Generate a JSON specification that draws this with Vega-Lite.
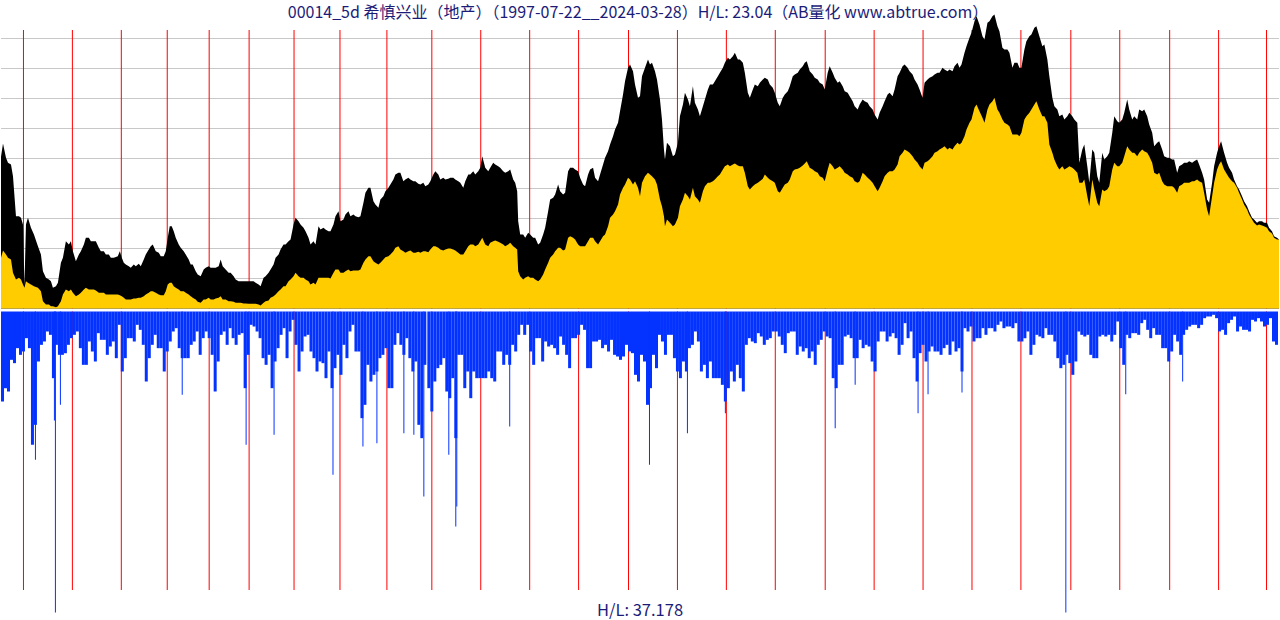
{
"$schema": "https://vega.github.io/schema/vega-lite/v6.json",
"width": 1280, "height": 620,
"autosize": {"type": "fit", "contains": "padding"},
"padding": 0,
"background": "white",
"config": {"view": {"stroke": null}},
"datasets": {
"price": [
{"x":0,"hi":455,"lo":152},{"x":2,"hi":495,"lo":174},{"x":5,"hi":452,"lo":162},{"x":7,"hi":437,"lo":152},{"x":10,"hi":432,"lo":147},{"x":12,"hi":397,"lo":107},{"x":15,"hi":277,"lo":87},{"x":18,"hi":277,"lo":92},{"x":20,"hi":272,"lo":87},{"x":22,"hi":252,"lo":72},{"x":23.5,"hi":70,"lo":62},{"x":25,"hi":252,"lo":82},{"x":27,"hi":272,"lo":77},{"x":30,"hi":242,"lo":72},{"x":33,"hi":222,"lo":67},{"x":37,"hi":187,"lo":62},{"x":40,"hi":162,"lo":52},{"x":42,"hi":112,"lo":22},{"x":45,"hi":92,"lo":12},{"x":48,"hi":87,"lo":12},{"x":50,"hi":82,"lo":7},{"x":52,"hi":62,"lo":7},{"x":55,"hi":67,"lo":4},{"x":57,"hi":77,"lo":7},{"x":60,"hi":137,"lo":22},{"x":62,"hi":152,"lo":42},{"x":65,"hi":202,"lo":57},{"x":68,"hi":192,"lo":52},{"x":70,"hi":202,"lo":57},{"x":72,"hi":172,"lo":47},{"x":75,"hi":142,"lo":37},{"x":78,"hi":162,"lo":42},{"x":80,"hi":172,"lo":47},{"x":83,"hi":192,"lo":57},{"x":85,"hi":212,"lo":62},{"x":88,"hi":212,"lo":57},{"x":90,"hi":202,"lo":57},{"x":93,"hi":202,"lo":57},{"x":95,"hi":202,"lo":54},{"x":98,"hi":182,"lo":47},{"x":100,"hi":172,"lo":47},{"x":103,"hi":172,"lo":47},{"x":105,"hi":162,"lo":42},{"x":108,"hi":162,"lo":42},{"x":110,"hi":152,"lo":42},{"x":113,"hi":152,"lo":42},{"x":117,"hi":157,"lo":42},{"x":119,"hi":172,"lo":40},{"x":121,"hi":152,"lo":37},{"x":123,"hi":137,"lo":32},{"x":125,"hi":132,"lo":27},{"x":128,"hi":127,"lo":27},{"x":130,"hi":122,"lo":27},{"x":133,"hi":132,"lo":30},{"x":135,"hi":127,"lo":30},{"x":138,"hi":134,"lo":32},{"x":140,"hi":127,"lo":32},{"x":143,"hi":147,"lo":37},{"x":145,"hi":162,"lo":42},{"x":148,"hi":177,"lo":47},{"x":150,"hi":187,"lo":52},{"x":152,"hi":192,"lo":52},{"x":155,"hi":172,"lo":47},{"x":158,"hi":167,"lo":42},{"x":160,"hi":157,"lo":40},{"x":163,"hi":157,"lo":40},{"x":165,"hi":172,"lo":52},{"x":167,"hi":212,"lo":72},{"x":169,"hi":247,"lo":77},{"x":171,"hi":247,"lo":77},{"x":173,"hi":232,"lo":67},{"x":175,"hi":212,"lo":62},{"x":178,"hi":192,"lo":57},{"x":180,"hi":182,"lo":52},{"x":183,"hi":172,"lo":52},{"x":185,"hi":162,"lo":47},{"x":188,"hi":147,"lo":42},{"x":190,"hi":132,"lo":37},{"x":192,"hi":132,"lo":32},{"x":195,"hi":112,"lo":27},{"x":197,"hi":102,"lo":20},{"x":200,"hi":97,"lo":17},{"x":203,"hi":117,"lo":27},{"x":205,"hi":122,"lo":27},{"x":208,"hi":127,"lo":32},{"x":210,"hi":122,"lo":27},{"x":213,"hi":122,"lo":27},{"x":215,"hi":122,"lo":30},{"x":218,"hi":127,"lo":32},{"x":220,"hi":147,"lo":37},{"x":222,"hi":127,"lo":27},{"x":225,"hi":117,"lo":27},{"x":228,"hi":107,"lo":22},{"x":230,"hi":107,"lo":22},{"x":233,"hi":97,"lo":20},{"x":235,"hi":87,"lo":17},{"x":238,"hi":82,"lo":17},{"x":240,"hi":82,"lo":17},{"x":243,"hi":82,"lo":15},{"x":245,"hi":82,"lo":15},{"x":248,"hi":82,"lo":14},{"x":250,"hi":82,"lo":14},{"x":253,"hi":82,"lo":14},{"x":255,"hi":77,"lo":14},{"x":258,"hi":72,"lo":12},{"x":260,"hi":67,"lo":9},{"x":263,"hi":92,"lo":17},{"x":265,"hi":97,"lo":22},{"x":268,"hi":107,"lo":24},{"x":270,"hi":117,"lo":32},{"x":273,"hi":132,"lo":37},{"x":275,"hi":152,"lo":42},{"x":278,"hi":162,"lo":52},{"x":280,"hi":177,"lo":57},{"x":283,"hi":192,"lo":67},{"x":285,"hi":192,"lo":67},{"x":288,"hi":202,"lo":82},{"x":290,"hi":207,"lo":87},{"x":293,"hi":252,"lo":97},{"x":295,"hi":272,"lo":107},{"x":298,"hi":262,"lo":97},{"x":300,"hi":252,"lo":92},{"x":303,"hi":242,"lo":92},{"x":305,"hi":232,"lo":87},{"x":308,"hi":212,"lo":82},{"x":310,"hi":192,"lo":72},{"x":313,"hi":202,"lo":77},{"x":315,"hi":192,"lo":72},{"x":318,"hi":247,"lo":92},
{"x":320,"hi":237,"lo":92},{"x":323,"hi":242,"lo":92},{"x":325,"hi":237,"lo":92},{"x":328,"hi":232,"lo":92},{"x":330,"hi":232,"lo":90},{"x":333,"hi":252,"lo":107},{"x":335,"hi":277,"lo":117},{"x":338,"hi":292,"lo":117},{"x":340,"hi":262,"lo":107},{"x":343,"hi":267,"lo":107},{"x":345,"hi":282,"lo":112},{"x":348,"hi":292,"lo":117},{"x":350,"hi":277,"lo":112},{"x":353,"hi":282,"lo":114},{"x":355,"hi":277,"lo":114},{"x":358,"hi":274,"lo":114},{"x":360,"hi":277,"lo":117},{"x":363,"hi":317,"lo":137},{"x":365,"hi":347,"lo":147},{"x":368,"hi":362,"lo":157},{"x":370,"hi":362,"lo":157},{"x":373,"hi":322,"lo":142},{"x":375,"hi":312,"lo":137},{"x":378,"hi":302,"lo":132},{"x":380,"hi":327,"lo":137},{"x":383,"hi":337,"lo":147},{"x":385,"hi":352,"lo":154},{"x":388,"hi":362,"lo":157},{"x":390,"hi":372,"lo":162},{"x":393,"hi":387,"lo":172},{"x":395,"hi":402,"lo":182},{"x":398,"hi":407,"lo":187},{"x":400,"hi":407,"lo":177},{"x":403,"hi":382,"lo":172},{"x":405,"hi":387,"lo":167},{"x":408,"hi":392,"lo":172},{"x":410,"hi":387,"lo":174},{"x":413,"hi":382,"lo":167},{"x":415,"hi":382,"lo":167},{"x":418,"hi":374,"lo":170},{"x":420,"hi":372,"lo":167},{"x":423,"hi":377,"lo":172},{"x":425,"hi":367,"lo":172},{"x":428,"hi":372,"lo":169},{"x":430,"hi":382,"lo":177},{"x":433,"hi":402,"lo":187},{"x":435,"hi":412,"lo":187},{"x":438,"hi":402,"lo":182},{"x":440,"hi":387,"lo":177},{"x":443,"hi":392,"lo":174},{"x":445,"hi":387,"lo":177},{"x":448,"hi":389,"lo":180},{"x":450,"hi":392,"lo":180},{"x":453,"hi":392,"lo":177},{"x":455,"hi":387,"lo":174},{"x":458,"hi":382,"lo":167},{"x":460,"hi":377,"lo":162},{"x":463,"hi":362,"lo":162},{"x":465,"hi":382,"lo":172},{"x":468,"hi":402,"lo":187},{"x":470,"hi":402,"lo":192},{"x":473,"hi":412,"lo":192},{"x":475,"hi":402,"lo":187},{"x":478,"hi":412,"lo":192},{"x":480,"hi":422,"lo":202},{"x":482,"hi":457,"lo":212},{"x":485,"hi":422,"lo":192},{"x":488,"hi":412,"lo":187},{"x":490,"hi":422,"lo":197},{"x":493,"hi":437,"lo":202},{"x":495,"hi":432,"lo":204},{"x":498,"hi":427,"lo":200},{"x":500,"hi":422,"lo":197},{"x":503,"hi":412,"lo":192},{"x":505,"hi":407,"lo":187},{"x":508,"hi":412,"lo":192},{"x":510,"hi":417,"lo":197},{"x":513,"hi":387,"lo":187},{"x":515,"hi":377,"lo":182},{"x":517,"hi":352,"lo":177},{"x":518,"hi":262,"lo":112},{"x":520,"hi":222,"lo":97},{"x":523,"hi":222,"lo":87},{"x":525,"hi":212,"lo":92},{"x":528,"hi":227,"lo":97},{"x":530,"hi":222,"lo":92},{"x":533,"hi":212,"lo":92},{"x":535,"hi":212,"lo":87},{"x":538,"hi":192,"lo":82},{"x":540,"hi":197,"lo":87},{"x":543,"hi":222,"lo":102},{"x":545,"hi":242,"lo":117},{"x":548,"hi":292,"lo":137},{"x":550,"hi":327,"lo":152},{"x":553,"hi":332,"lo":162},{"x":555,"hi":342,"lo":172},{"x":558,"hi":372,"lo":182},{"x":560,"hi":352,"lo":182},{"x":563,"hi":342,"lo":174},{"x":565,"hi":347,"lo":177},{"x":568,"hi":412,"lo":212},{"x":570,"hi":422,"lo":217},{"x":573,"hi":422,"lo":212},{"x":575,"hi":417,"lo":207},{"x":578,"hi":412,"lo":192},{"x":580,"hi":392,"lo":187},{"x":583,"hi":372,"lo":187},{"x":585,"hi":367,"lo":187},{"x":588,"hi":402,"lo":202},{"x":590,"hi":417,"lo":212},{"x":593,"hi":422,"lo":212},{"x":595,"hi":392,"lo":202},{"x":598,"hi":382,"lo":192},{"x":600,"hi":402,"lo":202},{"x":603,"hi":432,"lo":217},{"x":605,"hi":452,"lo":222},{"x":608,"hi":472,"lo":247},{"x":610,"hi":492,"lo":272},{"x":613,"hi":517,"lo":282},{"x":615,"hi":537,"lo":292},{"x":618,"hi":557,"lo":312},{"x":620,"hi":592,"lo":342},{"x":623,"hi":642,"lo":362},{"x":625,"hi":682,"lo":372},{"x":628,"hi":722,"lo":392},{"x":630,"hi":732,"lo":387},{"x":633,"hi":712,"lo":372},{"x":635,"hi":672,"lo":382},{"x":638,"hi":632,"lo":362},
{"x":640,"hi":637,"lo":337},{"x":642,"hi":697,"lo":377},{"x":645,"hi":722,"lo":397},{"x":648,"hi":747,"lo":407},{"x":650,"hi":732,"lo":402},{"x":652,"hi":737,"lo":397},{"x":655,"hi":712,"lo":387},{"x":657,"hi":687,"lo":372},{"x":660,"hi":627,"lo":327},{"x":662,"hi":567,"lo":307},{"x":664,"hi":477,"lo":277},{"x":665,"hi":447,"lo":247},{"x":667,"hi":497,"lo":267},{"x":670,"hi":487,"lo":257},{"x":673,"hi":457,"lo":247},{"x":675,"hi":462,"lo":252},{"x":678,"hi":497,"lo":272},{"x":680,"hi":577,"lo":307},{"x":683,"hi":612,"lo":327},{"x":685,"hi":647,"lo":347},{"x":688,"hi":627,"lo":337},{"x":690,"hi":607,"lo":327},{"x":693,"hi":667,"lo":362},{"x":695,"hi":617,"lo":337},{"x":698,"hi":597,"lo":327},{"x":700,"hi":577,"lo":317},{"x":703,"hi":607,"lo":352},{"x":705,"hi":627,"lo":367},{"x":708,"hi":657,"lo":377},{"x":710,"hi":672,"lo":377},{"x":713,"hi":672,"lo":382},{"x":715,"hi":682,"lo":387},{"x":718,"hi":697,"lo":397},{"x":720,"hi":707,"lo":402},{"x":723,"hi":722,"lo":417},{"x":725,"hi":737,"lo":427},{"x":728,"hi":752,"lo":432},{"x":730,"hi":747,"lo":427},{"x":733,"hi":757,"lo":432},{"x":735,"hi":767,"lo":435},{"x":738,"hi":747,"lo":429},{"x":740,"hi":747,"lo":427},{"x":743,"hi":737,"lo":427},{"x":745,"hi":707,"lo":407},{"x":748,"hi":647,"lo":367},{"x":750,"hi":632,"lo":357},{"x":753,"hi":657,"lo":367},{"x":755,"hi":672,"lo":372},{"x":758,"hi":667,"lo":377},{"x":760,"hi":677,"lo":382},{"x":763,"hi":687,"lo":389},{"x":765,"hi":692,"lo":402},{"x":768,"hi":687,"lo":392},{"x":770,"hi":672,"lo":387},{"x":773,"hi":662,"lo":382},{"x":775,"hi":647,"lo":377},{"x":778,"hi":617,"lo":352},{"x":780,"hi":607,"lo":347},{"x":783,"hi":632,"lo":362},{"x":785,"hi":642,"lo":372},{"x":788,"hi":652,"lo":377},{"x":790,"hi":667,"lo":387},{"x":793,"hi":697,"lo":412},{"x":795,"hi":702,"lo":417},{"x":798,"hi":707,"lo":419},{"x":800,"hi":717,"lo":422},{"x":803,"hi":727,"lo":429},{"x":805,"hi":737,"lo":435},{"x":807,"hi":742,"lo":442},{"x":810,"hi":712,"lo":422},{"x":813,"hi":702,"lo":417},{"x":815,"hi":692,"lo":412},{"x":818,"hi":687,"lo":407},{"x":820,"hi":677,"lo":397},{"x":823,"hi":672,"lo":392},{"x":825,"hi":657,"lo":382},{"x":828,"hi":707,"lo":417},{"x":830,"hi":727,"lo":437},{"x":833,"hi":707,"lo":427},{"x":835,"hi":692,"lo":417},{"x":838,"hi":677,"lo":422},{"x":840,"hi":682,"lo":427},{"x":843,"hi":667,"lo":417},{"x":845,"hi":652,"lo":407},{"x":848,"hi":647,"lo":402},{"x":850,"hi":637,"lo":397},{"x":853,"hi":622,"lo":392},{"x":855,"hi":607,"lo":382},{"x":858,"hi":597,"lo":377},{"x":860,"hi":612,"lo":382},{"x":863,"hi":627,"lo":407},{"x":865,"hi":622,"lo":402},{"x":868,"hi":617,"lo":392},{"x":870,"hi":607,"lo":387},{"x":873,"hi":597,"lo":377},{"x":875,"hi":582,"lo":367},{"x":878,"hi":567,"lo":352},{"x":880,"hi":587,"lo":362},{"x":883,"hi":607,"lo":382},{"x":885,"hi":622,"lo":397},{"x":888,"hi":642,"lo":407},{"x":890,"hi":647,"lo":412},{"x":893,"hi":637,"lo":412},{"x":895,"hi":657,"lo":417},{"x":898,"hi":697,"lo":432},{"x":900,"hi":707,"lo":457},{"x":903,"hi":727,"lo":467},{"x":905,"hi":732,"lo":477},{"x":908,"hi":722,"lo":472},{"x":910,"hi":712,"lo":467},{"x":913,"hi":702,"lo":457},{"x":915,"hi":687,"lo":447},{"x":918,"hi":672,"lo":437},{"x":920,"hi":657,"lo":427},{"x":923,"hi":632,"lo":417},{"x":925,"hi":677,"lo":437},{"x":928,"hi":687,"lo":442},{"x":930,"hi":692,"lo":447},{"x":933,"hi":697,"lo":457},{"x":935,"hi":702,"lo":467},{"x":938,"hi":707,"lo":472},{"x":940,"hi":707,"lo":477},{"x":943,"hi":722,"lo":482},{"x":945,"hi":717,"lo":487},{"x":948,"hi":712,"lo":477},{"x":950,"hi":717,"lo":482},{"x":953,"hi":712,"lo":477},{"x":955,"hi":727,"lo":487},{"x":958,"hi":737,"lo":497},
{"x":960,"hi":722,"lo":492},{"x":962,"hi":732,"lo":497},{"x":965,"hi":767,"lo":517},{"x":967,"hi":787,"lo":537},{"x":970,"hi":812,"lo":557},{"x":972,"hi":827,"lo":567},{"x":975,"hi":862,"lo":602},{"x":977,"hi":877,"lo":612},{"x":980,"hi":852,"lo":592},{"x":983,"hi":817,"lo":572},{"x":985,"hi":807,"lo":557},{"x":988,"hi":857,"lo":597},{"x":990,"hi":862,"lo":612},{"x":993,"hi":877,"lo":622},{"x":995,"hi":882,"lo":632},{"x":998,"hi":847,"lo":597},{"x":1000,"hi":832,"lo":587},{"x":1003,"hi":782,"lo":567},{"x":1005,"hi":777,"lo":557},{"x":1008,"hi":777,"lo":552},{"x":1010,"hi":767,"lo":547},{"x":1013,"hi":722,"lo":522},{"x":1015,"hi":737,"lo":522},{"x":1018,"hi":737,"lo":522},{"x":1020,"hi":722,"lo":517},{"x":1022,"hi":722,"lo":527},{"x":1025,"hi":777,"lo":567},{"x":1027,"hi":802,"lo":577},{"x":1030,"hi":817,"lo":587},{"x":1032,"hi":822,"lo":597},{"x":1035,"hi":842,"lo":612},{"x":1037,"hi":847,"lo":622},{"x":1040,"hi":817,"lo":597},{"x":1043,"hi":787,"lo":577},{"x":1045,"hi":792,"lo":577},{"x":1048,"hi":747,"lo":557},{"x":1050,"hi":697,"lo":492},{"x":1053,"hi":632,"lo":467},{"x":1055,"hi":607,"lo":447},{"x":1058,"hi":597,"lo":427},{"x":1060,"hi":577,"lo":417},{"x":1063,"hi":582,"lo":427},{"x":1065,"hi":567,"lo":417},{"x":1068,"hi":577,"lo":422},{"x":1070,"hi":587,"lo":427},{"x":1073,"hi":577,"lo":422},{"x":1075,"hi":567,"lo":417},{"x":1078,"hi":557,"lo":407},{"x":1080,"hi":437,"lo":377},{"x":1083,"hi":477,"lo":377},{"x":1085,"hi":492,"lo":387},{"x":1088,"hi":427,"lo":337},{"x":1090,"hi":377,"lo":307},{"x":1093,"hi":477,"lo":387},{"x":1095,"hi":467,"lo":357},{"x":1098,"hi":397,"lo":317},{"x":1100,"hi":377,"lo":307},{"x":1103,"hi":467,"lo":357},{"x":1105,"hi":447,"lo":352},{"x":1108,"hi":457,"lo":357},{"x":1110,"hi":467,"lo":367},{"x":1113,"hi":527,"lo":417},{"x":1115,"hi":577,"lo":437},{"x":1118,"hi":562,"lo":427},{"x":1120,"hi":557,"lo":427},{"x":1123,"hi":567,"lo":437},{"x":1125,"hi":587,"lo":457},{"x":1128,"hi":627,"lo":487},{"x":1130,"hi":597,"lo":477},{"x":1133,"hi":567,"lo":467},{"x":1135,"hi":577,"lo":467},{"x":1138,"hi":567,"lo":457},{"x":1140,"hi":597,"lo":467},{"x":1143,"hi":592,"lo":477},{"x":1145,"hi":597,"lo":472},{"x":1148,"hi":577,"lo":467},{"x":1150,"hi":552,"lo":457},{"x":1153,"hi":527,"lo":437},{"x":1155,"hi":487,"lo":407},{"x":1158,"hi":497,"lo":402},{"x":1160,"hi":502,"lo":407},{"x":1163,"hi":477,"lo":382},{"x":1165,"hi":457,"lo":372},{"x":1168,"hi":452,"lo":367},{"x":1170,"hi":452,"lo":367},{"x":1173,"hi":447,"lo":367},{"x":1175,"hi":447,"lo":362},{"x":1178,"hi":407,"lo":347},{"x":1180,"hi":427,"lo":367},{"x":1183,"hi":432,"lo":372},{"x":1185,"hi":437,"lo":377},{"x":1188,"hi":437,"lo":377},{"x":1190,"hi":442,"lo":377},{"x":1193,"hi":437,"lo":382},{"x":1195,"hi":442,"lo":382},{"x":1198,"hi":447,"lo":387},{"x":1200,"hi":432,"lo":382},{"x":1203,"hi":407,"lo":377},{"x":1205,"hi":387,"lo":347},{"x":1208,"hi":327,"lo":297},{"x":1210,"hi":317,"lo":277},{"x":1213,"hi":377,"lo":337},{"x":1215,"hi":427,"lo":377},{"x":1218,"hi":467,"lo":417},{"x":1220,"hi":487,"lo":432},{"x":1222,"hi":502,"lo":442},{"x":1225,"hi":467,"lo":417},{"x":1228,"hi":437,"lo":402},{"x":1230,"hi":422,"lo":392},{"x":1233,"hi":407,"lo":382},{"x":1235,"hi":387,"lo":377},{"x":1238,"hi":367,"lo":362},{"x":1240,"hi":357,"lo":347},{"x":1243,"hi":337,"lo":327},{"x":1245,"hi":322,"lo":312},{"x":1248,"hi":307,"lo":297},{"x":1250,"hi":292,"lo":282},{"x":1253,"hi":272,"lo":267},{"x":1255,"hi":267,"lo":257},{"x":1258,"hi":257,"lo":249},{"x":1260,"hi":262,"lo":252},{"x":1263,"hi":262,"lo":249},{"x":1265,"hi":257,"lo":247},{"x":1268,"hi":257,"lo":242},{"x":1270,"hi":242,"lo":232},{"x":1273,"hi":232,"lo":225},{"x":1275,"hi":217,"lo":212},{"x":1278,"hi":212,"lo":207},{"x":1280,"hi":207,"lo":207}
],
"volume": [
{"x":1.5,"v":270},{"x":4.5,"v":230},{"x":7.5,"v":240},{"x":10.5,"v":145},{"x":13.5,"v":155},{"x":16.5,"v":110},{"x":19.5,"v":130},{"x":22.5,"v":120},{"x":25.5,"v":80},{"x":28.5,"v":110},{"x":31.5,"v":400},{"x":34.5,"v":340},{"x":37.5,"v":150},{"x":40.5,"v":100},{"x":43.5,"v":90},{"x":46.5,"v":60},{"x":49.5,"v":70},{"x":52.5,"v":200},{"x":55.5,"v":100},{"x":58.5,"v":130},{"x":61.5,"v":130},{"x":64.5,"v":125},{"x":67.5,"v":100},{"x":70.5,"v":80},{"x":73.5,"v":70},{"x":76.5,"v":60},{"x":79.5,"v":110},{"x":82.5,"v":160},{"x":85.5,"v":160},{"x":88.5,"v":90},{"x":91.5,"v":120},{"x":94.5,"v":150},{"x":97.5,"v":65},{"x":100.5,"v":85},{"x":103.5,"v":85},{"x":106.5,"v":130},{"x":109.5,"v":105},{"x":112.5,"v":90},{"x":115.5,"v":140},{"x":118.5,"v":40},{"x":121.5,"v":180},{"x":124.5,"v":140},{"x":127.5,"v":80},{"x":130.5,"v":80},{"x":133.5,"v":90},{"x":136.5,"v":40},{"x":139.5,"v":55},{"x":142.5,"v":100},{"x":145.5,"v":210},{"x":148.5,"v":140},{"x":151.5,"v":100},{"x":154.5,"v":70},{"x":157.5,"v":110},{"x":160.5,"v":110},{"x":163.5,"v":180},{"x":166.5,"v":120},{"x":169.5,"v":90},{"x":172.5,"v":60},{"x":175.5,"v":50},{"x":178.5,"v":110},{"x":181.5,"v":140},{"x":184.5,"v":140},{"x":187.5,"v":140},{"x":190.5,"v":100},{"x":193.5,"v":90},{"x":196.5,"v":60},{"x":199.5,"v":130},{"x":202.5,"v":80},{"x":205.5,"v":60},{"x":208.5,"v":80},{"x":211.5,"v":130},{"x":214.5,"v":240},{"x":217.5,"v":150},{"x":220.5,"v":70},{"x":223.5,"v":60},{"x":226.5,"v":100},{"x":229.5,"v":50},{"x":232.5,"v":80},{"x":235.5,"v":100},{"x":238.5,"v":70},{"x":241.5,"v":65},{"x":244.5,"v":230},{"x":247.5,"v":130},{"x":250.5,"v":40},{"x":253.5,"v":45},{"x":256.5,"v":60},{"x":259.5,"v":80},{"x":262.5,"v":140},{"x":265.5,"v":160},{"x":268.5,"v":130},{"x":271.5,"v":230},{"x":274.5,"v":150},{"x":277.5,"v":110},{"x":280.5,"v":70},{"x":283.5,"v":50},{"x":286.5,"v":140},{"x":289.5,"v":60},{"x":292.5,"v":25},{"x":295.5,"v":100},{"x":298.5,"v":180},{"x":301.5,"v":120},{"x":304.5,"v":75},{"x":307.5,"v":70},{"x":310.5,"v":120},{"x":313.5,"v":140},{"x":316.5,"v":180},{"x":319.5,"v":150},{"x":322.5,"v":155},{"x":325.5,"v":200},{"x":328.5,"v":120},{"x":331.5,"v":230},{"x":334.5,"v":170},{"x":337.5,"v":130},{"x":340.5,"v":190},{"x":343.5,"v":100},{"x":346.5,"v":140},{"x":349.5,"v":60},{"x":352.5,"v":40},{"x":355.5,"v":120},{"x":358.5,"v":120},{"x":361.5,"v":320},{"x":364.5,"v":280},{"x":367.5,"v":160},{"x":370.5,"v":210},{"x":373.5,"v":190},{"x":376.5,"v":180},{"x":379.5,"v":140},{"x":382.5,"v":130},{"x":385.5,"v":110},{"x":388.5,"v":230},{"x":391.5,"v":230},{"x":394.5,"v":100},{"x":397.5,"v":65},{"x":400.5,"v":100},{"x":403.5,"v":130},{"x":406.5,"v":80},{"x":409.5,"v":140},{"x":412.5,"v":180},{"x":415.5,"v":150},{"x":418.5,"v":340},{"x":421.5,"v":380},{"x":424.5,"v":160},
{"x":428.5,"v":230},{"x":431.5,"v":300},{"x":434.5,"v":210},{"x":437.5,"v":170},{"x":440.5,"v":160},{"x":443.5,"v":140},{"x":446.5,"v":240},{"x":449.5,"v":260},{"x":452.5,"v":200},{"x":455.5,"v":380},{"x":458.5,"v":130},{"x":461.5,"v":130},{"x":464.5,"v":230},{"x":467.5,"v":180},{"x":470.5,"v":260},{"x":473.5,"v":180},{"x":476.5,"v":200},{"x":479.5,"v":200},{"x":482.5,"v":200},{"x":485.5,"v":200},{"x":488.5,"v":180},{"x":491.5,"v":200},{"x":494.5,"v":210},{"x":497.5,"v":120},{"x":500.5,"v":120},{"x":503.5,"v":160},{"x":506.5,"v":130},{"x":509.5,"v":160},{"x":512.5,"v":100},{"x":515.5,"v":120},{"x":518.5,"v":70},{"x":521.5,"v":40},{"x":524.5,"v":70},{"x":527.5,"v":40},{"x":530.5,"v":120},{"x":533.5,"v":160},{"x":536.5,"v":80},{"x":539.5,"v":80},{"x":542.5,"v":150},{"x":545.5,"v":90},{"x":548.5,"v":105},{"x":551.5,"v":100},{"x":554.5,"v":110},{"x":557.5,"v":130},{"x":560.5,"v":75},{"x":563.5,"v":100},{"x":566.5,"v":130},{"x":569.5,"v":170},{"x":572.5,"v":80},{"x":575.5,"v":80},{"x":578.5,"v":70},{"x":581.5,"v":40},{"x":584.5,"v":55},{"x":587.5,"v":170},{"x":590.5,"v":170},{"x":593.5,"v":90},{"x":596.5,"v":90},{"x":599.5,"v":85},{"x":602.5,"v":110},{"x":605.5,"v":100},{"x":608.5,"v":120},{"x":611.5,"v":85},{"x":614.5,"v":130},{"x":617.5,"v":135},{"x":620.5,"v":145},{"x":623.5,"v":135},{"x":626.5,"v":100},{"x":629.5,"v":120},{"x":632.5,"v":125},{"x":635.5,"v":190},{"x":638.5,"v":210},{"x":641.5,"v":130},{"x":644.5,"v":150},{"x":647.5,"v":280},{"x":650.5,"v":230},{"x":653.5,"v":130},{"x":656.5,"v":170},{"x":659.5,"v":70},{"x":662.5,"v":90},{"x":665.5,"v":130},{"x":668.5,"v":70},{"x":671.5,"v":70},{"x":674.5,"v":140},{"x":677.5,"v":180},{"x":680.5,"v":200},{"x":683.5,"v":150},{"x":686.5,"v":180},{"x":689.5,"v":110},{"x":692.5,"v":100},{"x":695.5,"v":60},{"x":698.5,"v":90},{"x":701.5,"v":180},{"x":704.5,"v":160},{"x":707.5,"v":200},{"x":710.5,"v":150},{"x":713.5,"v":200},{"x":716.5,"v":200},{"x":719.5,"v":200},{"x":722.5,"v":220},{"x":725.5,"v":270},{"x":728.5,"v":230},{"x":731.5,"v":180},{"x":734.5,"v":210},{"x":737.5,"v":160},{"x":740.5,"v":200},{"x":743.5,"v":240},{"x":746.5,"v":100},{"x":749.5,"v":80},{"x":752.5,"v":90},{"x":755.5,"v":95},{"x":758.5,"v":65},{"x":761.5,"v":75},{"x":764.5,"v":100},{"x":767.5,"v":85},{"x":770.5,"v":80},{"x":773.5,"v":60},{"x":776.5,"v":60},{"x":779.5,"v":75},{"x":782.5,"v":100},{"x":785.5,"v":125},{"x":788.5,"v":65},{"x":791.5,"v":60},{"x":794.5,"v":60},{"x":797.5,"v":130},{"x":800.5,"v":105},{"x":803.5,"v":120},{"x":806.5,"v":110},{"x":809.5,"v":140},{"x":812.5,"v":120},{"x":815.5,"v":160},{"x":818.5,"v":100},{"x":821.5,"v":85},{"x":824.5,"v":60},{"x":827.5,"v":75},{"x":830.5,"v":80},{"x":833.5,"v":200},{"x":836.5,"v":230},{"x":839.5,"v":160},{"x":842.5,"v":160},{"x":845.5,"v":75},{"x":848.5,"v":70},{"x":851.5,"v":80},
{"x":854.5,"v":140},{"x":857.5,"v":140},{"x":860.5,"v":85},{"x":863.5,"v":110},{"x":866.5,"v":100},{"x":869.5,"v":105},{"x":872.5,"v":150},{"x":875.5,"v":180},{"x":878.5,"v":90},{"x":881.5,"v":60},{"x":884.5,"v":60},{"x":887.5,"v":90},{"x":890.5,"v":75},{"x":893.5,"v":65},{"x":896.5,"v":80},{"x":899.5,"v":130},{"x":902.5,"v":100},{"x":905.5,"v":35},{"x":908.5,"v":80},{"x":911.5,"v":60},{"x":914.5,"v":140},{"x":917.5,"v":210},{"x":920.5,"v":125},{"x":923.5,"v":100},{"x":926.5,"v":150},{"x":929.5,"v":120},{"x":932.5,"v":105},{"x":935.5,"v":120},{"x":938.5,"v":120},{"x":941.5,"v":130},{"x":944.5,"v":110},{"x":947.5,"v":100},{"x":950.5,"v":130},{"x":953.5,"v":90},{"x":956.5,"v":120},{"x":959.5,"v":110},{"x":962.5,"v":180},{"x":965.5,"v":50},{"x":968.5,"v":60},{"x":971.5,"v":45},{"x":974.5,"v":90},{"x":977.5,"v":80},{"x":980.5,"v":80},{"x":983.5,"v":50},{"x":986.5,"v":70},{"x":989.5,"v":50},{"x":992.5,"v":50},{"x":995.5,"v":60},{"x":998.5,"v":40},{"x":1001.5,"v":30},{"x":1004.5,"v":50},{"x":1007.5,"v":45},{"x":1010.5,"v":45},{"x":1013.5,"v":50},{"x":1016.5,"v":35},{"x":1019.5,"v":90},{"x":1022.5,"v":90},{"x":1025.5,"v":80},{"x":1028.5,"v":60},{"x":1031.5,"v":130},{"x":1034.5,"v":100},{"x":1037.5,"v":70},{"x":1040.5,"v":75},{"x":1043.5,"v":80},{"x":1046.5,"v":50},{"x":1049.5,"v":70},{"x":1052.5,"v":70},{"x":1055.5,"v":90},{"x":1058.5,"v":140},{"x":1061.5,"v":170},{"x":1064.5,"v":160},{"x":1067.5,"v":130},{"x":1070.5,"v":155},{"x":1073.5,"v":190},{"x":1076.5,"v":150},{"x":1079.5,"v":60},{"x":1082.5,"v":70},{"x":1085.5,"v":75},{"x":1088.5,"v":70},{"x":1091.5,"v":130},{"x":1094.5,"v":140},{"x":1097.5,"v":140},{"x":1100.5,"v":75},{"x":1103.5,"v":70},{"x":1106.5,"v":75},{"x":1109.5,"v":70},{"x":1112.5,"v":90},{"x":1115.5,"v":70},{"x":1118.5,"v":30},{"x":1121.5,"v":110},{"x":1124.5,"v":160},{"x":1127.5,"v":70},{"x":1130.5,"v":80},{"x":1133.5,"v":65},{"x":1136.5,"v":65},{"x":1139.5,"v":70},{"x":1142.5,"v":35},{"x":1145.5,"v":25},{"x":1148.5,"v":55},{"x":1151.5,"v":80},{"x":1154.5,"v":50},{"x":1157.5,"v":70},{"x":1160.5,"v":70},{"x":1163.5,"v":110},{"x":1166.5,"v":110},{"x":1169.5,"v":150},{"x":1172.5,"v":120},{"x":1175.5,"v":70},{"x":1178.5,"v":90},{"x":1181.5,"v":130},{"x":1184.5,"v":70},{"x":1187.5,"v":55},{"x":1190.5,"v":45},{"x":1193.5,"v":40},{"x":1196.5,"v":40},{"x":1199.5,"v":50},{"x":1202.5,"v":40},{"x":1205.5,"v":20},{"x":1208.5,"v":15},{"x":1211.5,"v":15},{"x":1214.5,"v":10},{"x":1217.5,"v":20},{"x":1220.5,"v":60},{"x":1223.5,"v":55},{"x":1226.5,"v":70},{"x":1229.5,"v":35},{"x":1232.5,"v":25},{"x":1235.5,"v":15},{"x":1238.5,"v":60},{"x":1241.5,"v":45},{"x":1244.5,"v":55},{"x":1247.5,"v":55},{"x":1250.5,"v":60},{"x":1253.5,"v":25},{"x":1256.5,"v":30},{"x":1259.5,"v":20},{"x":1262.5,"v":30},{"x":1265.5,"v":45},{"x":1268.5,"v":40},{"x":1271.5,"v":20},{"x":1274.5,"v":90},{"x":1277.5,"v":100}
],
"spikes": [
{"x":34.5,"v":445},{"x":53.5,"v":327},{"x":54.5,"v":903},{"x":59.5,"v":280},{"x":181.5,"v":250},{"x":245.5,"v":400},{"x":273.5,"v":370},{"x":332.5,"v":490},{"x":362.5,"v":405},{"x":376.5,"v":395},{"x":403.5,"v":365},{"x":413.5,"v":370},{"x":423.5,"v":555},{"x":448.5,"v":430},{"x":455.5,"v":645},{"x":456.5,"v":585},{"x":509.5,"v":345},{"x":649.5,"v":460},{"x":687.5,"v":365},{"x":725.5,"v":305},{"x":835.5,"v":350},{"x":855.5,"v":220},{"x":918.5,"v":305},{"x":928.5,"v":248},{"x":962.5,"v":243},{"x":1066.5,"v":903},{"x":1126.5,"v":248},{"x":1183.5,"v":210}
],
"years": [
{"year":1998,"x":22.5},{"year":1999,"x":71.5},{"year":2000,"x":120.5},{"year":2001,"x":166.5},{"year":2002,"x":208.5},{"year":2003,"x":248.5},{"year":2004,"x":293.5},{"year":2005,"x":339.5},{"year":2006,"x":386.5},{"year":2007,"x":431.5},{"year":2008,"x":480.5},{"year":2009,"x":529.5},{"year":2010,"x":578.5},{"year":2011,"x":628.5},{"year":2012,"x":677.5},{"year":2013,"x":726.5},{"year":2014,"x":775.5},{"year":2015,"x":825.5},{"year":2016,"x":874.5},{"year":2017,"x":923.5},{"year":2018,"x":972.5},{"year":2019,"x":1021.5},{"year":2020,"x":1071.5},{"year":2021,"x":1120.5},{"year":2022,"x":1170.5},{"year":2023,"x":1219.5},{"year":2024,"x":1267.5}
],
"grid": [{"level":90},{"level":180},{"level":270},{"level":360},{"level":450},{"level":540},{"level":630},{"level":720},{"level":810}],
"labels": [{"t":"00014_5d 希慎兴业（地产）（1997-07-22__2024-03-28）H/L: 23.04（AB量化  www.abtrue.com）","pos":638}],
"labels2": [{"t":"H/L: 37.178","pos":640}]
},
"resolve": {"scale": {"y": "independent"}},
"layer": [
{
"layer": [
{"data": {"name": "grid"}, "mark": {"type": "rule", "color": "#c8c8c8", "strokeWidth": 1},
 "encoding": {"y": {"field": "level", "type": "quantitative", "scale": {"domain": [-934.5, 925.5], "nice": false, "zero": false}, "axis": null}}},
{"data": {"name": "years"}, "mark": {"type": "bar", "color": "#ff0000", "width": 1},
 "encoding": {"x": {"field": "x", "type": "quantitative", "scale": {"domain": [0, 1280], "nice": false, "zero": false, "padding": 0}, "axis": null},
  "y": {"datum": 835.5, "type": "quantitative", "scale": {"domain": [-934.5, 925.5], "nice": false, "zero": false}, "axis": null}}},
{"data": {"name": "price"}, "mark": {"type": "area", "color": "#000000", "interpolate": "linear"},
 "encoding": {"x": {"field": "x", "type": "quantitative", "scale": {"domain": [0, 1280], "nice": false, "zero": false, "padding": 0}, "axis": null},
  "y": {"field": "hi", "type": "quantitative", "scale": {"domain": [-934.5, 925.5], "nice": false, "zero": false}, "axis": null}}},
{"data": {"name": "price"}, "mark": {"type": "area", "color": "#ffcc00", "interpolate": "linear"},
 "encoding": {"x": {"field": "x", "type": "quantitative", "scale": {"domain": [0, 1280], "nice": false, "zero": false, "padding": 0}, "axis": null},
  "y": {"field": "lo", "type": "quantitative", "scale": {"domain": [-934.5, 925.5], "nice": false, "zero": false}, "axis": null}}},
{"data": {"name": "labels"},
 "mark": {"type": "text", "font": "Noto Sans CJK SC", "fontSize": 16, "color": "#1c1c78", "baseline": "middle", "align": "center"},
 "encoding": {"text": {"field": "t", "type": "nominal"},
  "x": {"field": "pos", "type": "quantitative", "scale": {"domain": [0, 1280], "nice": false, "zero": false, "padding": 0}, "axis": null},
  "y": {"datum": 886.5, "type": "quantitative", "scale": {"domain": [-934.5, 925.5], "nice": false, "zero": false}, "axis": null}}}
]
},
{
"layer": [
{"data": {"name": "years"}, "mark": {"type": "bar", "color": "#ff0000", "width": 1},
 "encoding": {"x": {"field": "x", "type": "quantitative", "scale": {"domain": [0, 1280], "nice": false, "zero": false, "padding": 0}, "axis": null},
  "y": {"datum": 835.5, "type": "quantitative", "scale": {"domain": [-934.5, 925.5], "reverse": true, "nice": false, "zero": false}, "axis": null}}},
{"data": {"name": "volume"}, "mark": {"type": "bar", "color": "#0433ff", "width": 3},
 "encoding": {"x": {"field": "x", "type": "quantitative", "scale": {"domain": [0, 1280], "nice": false, "zero": false, "padding": 0}, "axis": null},
  "y": {"field": "v", "type": "quantitative", "scale": {"domain": [-934.5, 925.5], "reverse": true, "nice": false, "zero": false}, "axis": null}}},
{"data": {"name": "spikes"}, "mark": {"type": "bar", "color": "#0433ff", "width": 1},
 "encoding": {"x": {"field": "x", "type": "quantitative", "scale": {"domain": [0, 1280], "nice": false, "zero": false, "padding": 0}, "axis": null},
  "y": {"field": "v", "type": "quantitative", "scale": {"domain": [-934.5, 925.5], "reverse": true, "nice": false, "zero": false}, "axis": null}}},
{"data": {"name": "labels2"},
 "mark": {"type": "text", "font": "Noto Sans CJK SC", "fontSize": 16.5, "color": "#1c1c78", "baseline": "middle", "align": "center"},
 "encoding": {"text": {"field": "t", "type": "nominal"},
  "x": {"field": "pos", "type": "quantitative", "scale": {"domain": [0, 1280], "nice": false, "zero": false, "padding": 0}, "axis": null},
  "y": {"datum": 898.5, "type": "quantitative", "scale": {"domain": [-934.5, 925.5], "reverse": true, "nice": false, "zero": false}, "axis": null}}}
]
}
]
}
